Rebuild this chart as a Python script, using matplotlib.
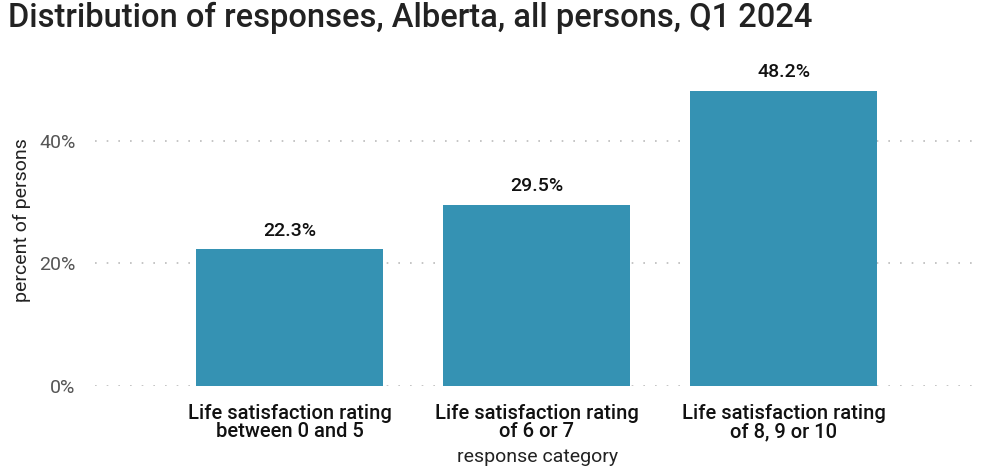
import numpy as np
import matplotlib
matplotlib.use("Agg")
import matplotlib.pyplot as plt

categories = ["Life satisfaction rating\nbetween 0 and 5",
              "Life satisfaction rating\nof 6 or 7",
              "Life satisfaction rating\nof 8, 9 or 10"]
values = [22.3, 29.5, 48.2]
yticks = [0, 20, 40]

plt.rcParams['font.family'] = ['Roboto', 'DejaVu Sans']

fig = plt.figure(figsize=(9.89, 4.75), dpi=100)
ax = fig.add_axes([95/989, 89/475, 885/989, (386-55)/475])

x = np.arange(len(categories))
ax.bar(x, values, width=0.757, color="#3592b3", zorder=2)
for xi, v in zip(x, values):
    ax.text(xi, v + 1.6, f"{v:.1f}%", ha="center", va="bottom", fontsize=14,
            fontweight="medium", color="#111111")

ax.set_xlim(-0.787, 2.795)
ax.set_ylim(0, 54)
ax.set_yticks(yticks)
ax.set_yticklabels([f"{t}%" for t in yticks])
ax.set_xticks(x)
ax.set_xticklabels(categories, fontsize=14.5, fontweight="medium", color="#111111",
                   linespacing=0.95)
ax.tick_params(axis="y", length=0, labelsize=14, labelcolor="#555555", pad=14)
ax.tick_params(axis="x", length=0, pad=13)
ax.yaxis.grid(True, linestyle=(0, (1, 6)), color="#bbbbbb", linewidth=1.2, zorder=0)
for s in ax.spines.values():
    s.set_visible(False)

ax.set_ylabel("percent of persons", fontsize=14, color="#222222", labelpad=6)
ax.set_xlabel("response category", fontsize=14, color="#222222", labelpad=5)

fig.text(8/989, 1 - 18/475, "Distribution of responses, Alberta, all persons, Q1 2024",
         fontsize=23.5, fontweight="medium", color="#222222", va="center", ha="left")

fig.savefig("out.png", dpi=100)
plt.close()
